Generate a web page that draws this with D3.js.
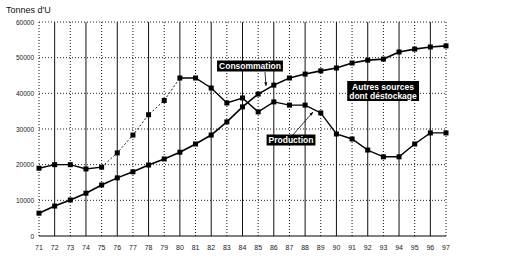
<!DOCTYPE html>
<html>
<head>
<meta charset="utf-8">
<script src="https://cdn.jsdelivr.net/npm/d3@7"></script>
<style>
  body { margin: 0; background: #fff; }
  svg { display: block; font-family: "Liberation Sans", Arial, sans-serif; }
</style>
</head>
<body>
<div id="chart"></div>
<script>
// years 1971..1997, shown as two-digit labels
const years = d3.range(71, 98);
const yearLabels = years.map(y => String(y));

// tonnes of uranium
const production = [19000, 20000, 20000, 18800, 19300, 23300, 28300, 34000, 38000, 44300,
  44300, 41500, 37300, 38700, 34800, 37600, 36700, 36700, 34500, 28600,
  27200, 24100, 22200, 22200, 25800, 28900, 28900];
const consommation = [6400, 8400, 10100, 12000, 14300, 16300, 18000, 19900, 21600, 23500,
  25800, 28300, 32000, 36200, 39800, 42300, 44300, 45400, 46300, 47100,
  48500, 49300, 49600, 51600, 52400, 53000, 53300];
const yTicks = [0, 10000, 20000, 30000, 40000, 50000, 60000];

const width = 528, height = 270;
const margin = { top: 22, right: 82, bottom: 34, left: 39 };

const svg = d3.select('#chart').append('svg')
  .attr('width', width)
  .attr('height', height);

const x = d3.scaleLinear()
  .domain([71, 97])
  .range([margin.left, width - margin.right]);

const y = d3.scaleLinear()
  .domain([0, 60000])
  .range([height - margin.bottom, margin.top]);

// vertical grid, one per year
svg.append('g')
  .selectAll('line')
  .data(years)
  .join('line')
  .attr('x1', d => x(d)).attr('x2', d => x(d))
  .attr('y1', y(0)).attr('y2', y(60000))
  .attr('stroke', '#111')
  .attr('stroke-width', 1)
  .attr('stroke-dasharray', (d, i) => i % 2 === 0 ? '1,2' : null);

// horizontal dotted grid
svg.append('g')
  .selectAll('line')
  .data(yTicks.filter(d => d > 0))
  .join('line')
  .attr('x1', x(71)).attr('x2', x(97))
  .attr('y1', d => y(d)).attr('y2', d => y(d))
  .attr('stroke', '#222')
  .attr('stroke-dasharray', '1,2');

// baseline
svg.append('line')
  .attr('x1', x(71)).attr('x2', x(97))
  .attr('y1', y(0)).attr('y2', y(0))
  .attr('stroke', '#000');

// y labels
svg.append('g')
  .selectAll('text')
  .data(yTicks)
  .join('text')
  .attr('x', x(71) - 5)
  .attr('y', d => y(d) + 2.5)
  .attr('text-anchor', 'end')
  .attr('font-size', 6.5)
  .attr('fill', '#222')
  .text(d => d);

// x labels
svg.append('g')
  .selectAll('text')
  .data(years)
  .join('text')
  .attr('x', d => x(d))
  .attr('y', y(0) + 14)
  .attr('text-anchor', 'middle')
  .attr('font-size', 7)
  .attr('fill', '#222')
  .text((d, i) => yearLabels[i]);

svg.append('text')
  .attr('x', 6).attr('y', 13)
  .attr('font-size', 9)
  .attr('fill', '#111')
  .text("Tonnes d'U");

const line = d3.line().x((d, i) => x(years[i])).y(d => y(d));

// production: dashed part 1975-1980, solid elsewhere
const prodPts = production.map((v, i) => [years[i], v]);
const pl = d3.line().x(d => x(d[0])).y(d => y(d[1]));
svg.append('path')
  .attr('d', pl(prodPts.filter(d => d[0] <= 75)))
  .attr('fill', 'none').attr('stroke', '#000').attr('stroke-width', 1.4);
svg.append('path')
  .attr('d', pl(prodPts.filter(d => d[0] >= 75 && d[0] <= 80)))
  .attr('fill', 'none').attr('stroke', '#000').attr('stroke-width', 0.9)
  .attr('stroke-dasharray', '2,2');
svg.append('path')
  .attr('d', pl(prodPts.filter(d => d[0] >= 80)))
  .attr('fill', 'none').attr('stroke', '#000').attr('stroke-width', 1.4);

svg.append('path')
  .attr('d', line(consommation))
  .attr('fill', 'none').attr('stroke', '#000').attr('stroke-width', 1.6);

[production, consommation].forEach(series => {
  svg.append('g')
    .selectAll('rect')
    .data(series)
    .join('rect')
    .attr('x', (d, i) => x(years[i]) - 2.5)
    .attr('y', d => y(d) - 2.5)
    .attr('width', 5).attr('height', 5)
    .attr('fill', '#000');
});

// annotation boxes
function label(lines, cx, cy) {
  const g = svg.append('g');
  const t = g.append('text')
    .attr('font-size', 8.5)
    .attr('font-weight', 'bold')
    .attr('fill', '#fff')
    .attr('text-anchor', 'middle');
  lines.forEach((s, i) => {
    t.append('tspan').attr('x', cx).attr('y', cy + 3 + (i - (lines.length - 1) / 2) * 9).text(s);
  });
  const b = t.node().getBBox();
  g.insert('rect', 'text')
    .attr('x', b.x - 2).attr('y', b.y - 0.5)
    .attr('width', b.width + 4).attr('height', b.height + 1)
    .attr('fill', '#000');
}

function arrow(x1, y1, x2, y2) {
  svg.append('line')
    .attr('x1', x1).attr('y1', y1).attr('x2', x2).attr('y2', y2)
    .attr('stroke', '#000').attr('stroke-width', 0.8);
  const a = Math.atan2(y2 - y1, x2 - x1);
  const s = 4;
  svg.append('path')
    .attr('d', `M${x2},${y2}L${x2 - s * Math.cos(a - 0.4)},${y2 - s * Math.sin(a - 0.4)}L${x2 - s * Math.cos(a + 0.4)},${y2 - s * Math.sin(a + 0.4)}Z`)
    .attr('fill', '#000');
}

arrow(265, 72, 266, 86);
arrow(292, 136, 313, 112);
label(['Consommation'], 250, 66);
label(['Production'], 291, 140);
label(['Autres sources', 'dont déstockage'], 383, 91);
</script>
</body>
</html>
